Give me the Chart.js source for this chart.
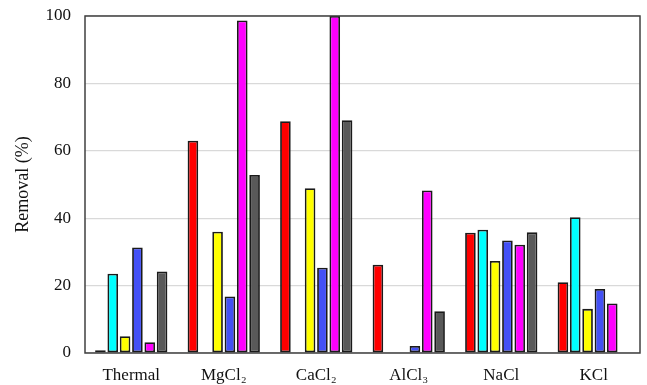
<!DOCTYPE html>
<html>
<head>
<meta charset="utf-8">
<script src="https://cdn.jsdelivr.net/npm/chart.js@4/dist/chart.umd.min.js"></script>
<style>
  html, body { margin: 0; padding: 0; background: #fff; }
  #wrap { width: 647px; height: 385px; }
</style>
</head>
<body>
<div id="wrap"><canvas id="canvas" width="647" height="385"></canvas></div>
<script>
var categories = ['Thermal', 'MgCl\u2082', 'CaCl\u2082', 'AlCl\u2083', 'NaCl', 'KCl'];
var yTicks = [0, 20, 40, 60, 80, 100];

// removal (%) per treatment, null where nothing was measured
var redVals     = [0.8, 63.0, 68.8, 26.2, 35.7, 21.0];
var cyanVals    = [23.5, null, null, null, 36.6, 40.3];
var yellowVals  = [5.0, 36.0, 48.9, null, 27.3, 13.1];
var blueVals    = [31.3, 16.8, 25.3, 2.1, 33.4, 19.0];
var magentaVals = [3.2, 98.7, 100, 48.2, 32.1, 14.7];
var grayVals    = [24.2, 52.8, 69.1, 12.4, 35.8, null];

var serif = "'Liberation Serif', 'DejaVu Serif', serif";

function series(vals, color) {
	return {
		data : vals,
		backgroundColor : color,
		borderColor : '#1a1a1a',
		borderWidth : 1.8,
		borderSkipped : false,
		barPercentage : 0.86,
		categoryPercentage : 0.8
	};
}

// dark frame all the way round the plot area
var frame = {
	id : 'frame',
	afterDraw : function(chart) {
		var a = chart.chartArea, c = chart.ctx;
		c.save();
		c.strokeStyle = '#404040';
		c.lineWidth = 1.5;
		c.strokeRect(a.left, a.top, a.right - a.left, a.bottom - a.top);
		c.restore();
	}
};

var ctx = document.getElementById('canvas').getContext('2d');
new Chart(ctx, {
	type : 'bar',
	data : {
		labels : categories,
		datasets : [
			series(redVals, '#ff0000'),
			series(cyanVals, '#00ffff'),
			series(yellowVals, '#ffff00'),
			series(blueVals, '#4350f5'),
			series(magentaVals, '#ff00ff'),
			series(grayVals, '#595959')
		]
	},
	options : {
		responsive : false,
		animation : false,
		layout : { padding : { top : 16, right : 7, left : 0, bottom : 0 } },
		plugins : {
			legend : { display : false },
			tooltip : { enabled : false }
		},
		scales : {
			x : {
				grid : { display : false, drawTicks : false },
				border : { display : false },
				ticks : { color : '#111', padding : 12, font : { family : serif, size : 17 } },
				afterFit : function(s) { s.height = 32; s.paddingLeft = 0; s.paddingRight = 0; }
			},
			y : {
				min : 0,
				max : 100,
				afterBuildTicks : function(s) {
					s.ticks = yTicks.map(function(v) { return { value : v }; });
				},
				grid : { color : '#d9d9d9', lineWidth : 1.2, drawTicks : false },
				border : { display : false },
				ticks : { color : '#111', padding : 14, font : { family : serif, size : 17 } },
				title : {
					display : true,
					text : 'Removal (%)',
					color : '#111',
					padding : { top : 12, bottom : 0 },
					font : { family : serif, size : 18 }
				},
				afterFit : function(s) { s.width = 85; s.paddingTop = 0; s.paddingBottom = 0; }
			}
		}
	},
	plugins : [frame]
});
</script>
</body>
</html>
